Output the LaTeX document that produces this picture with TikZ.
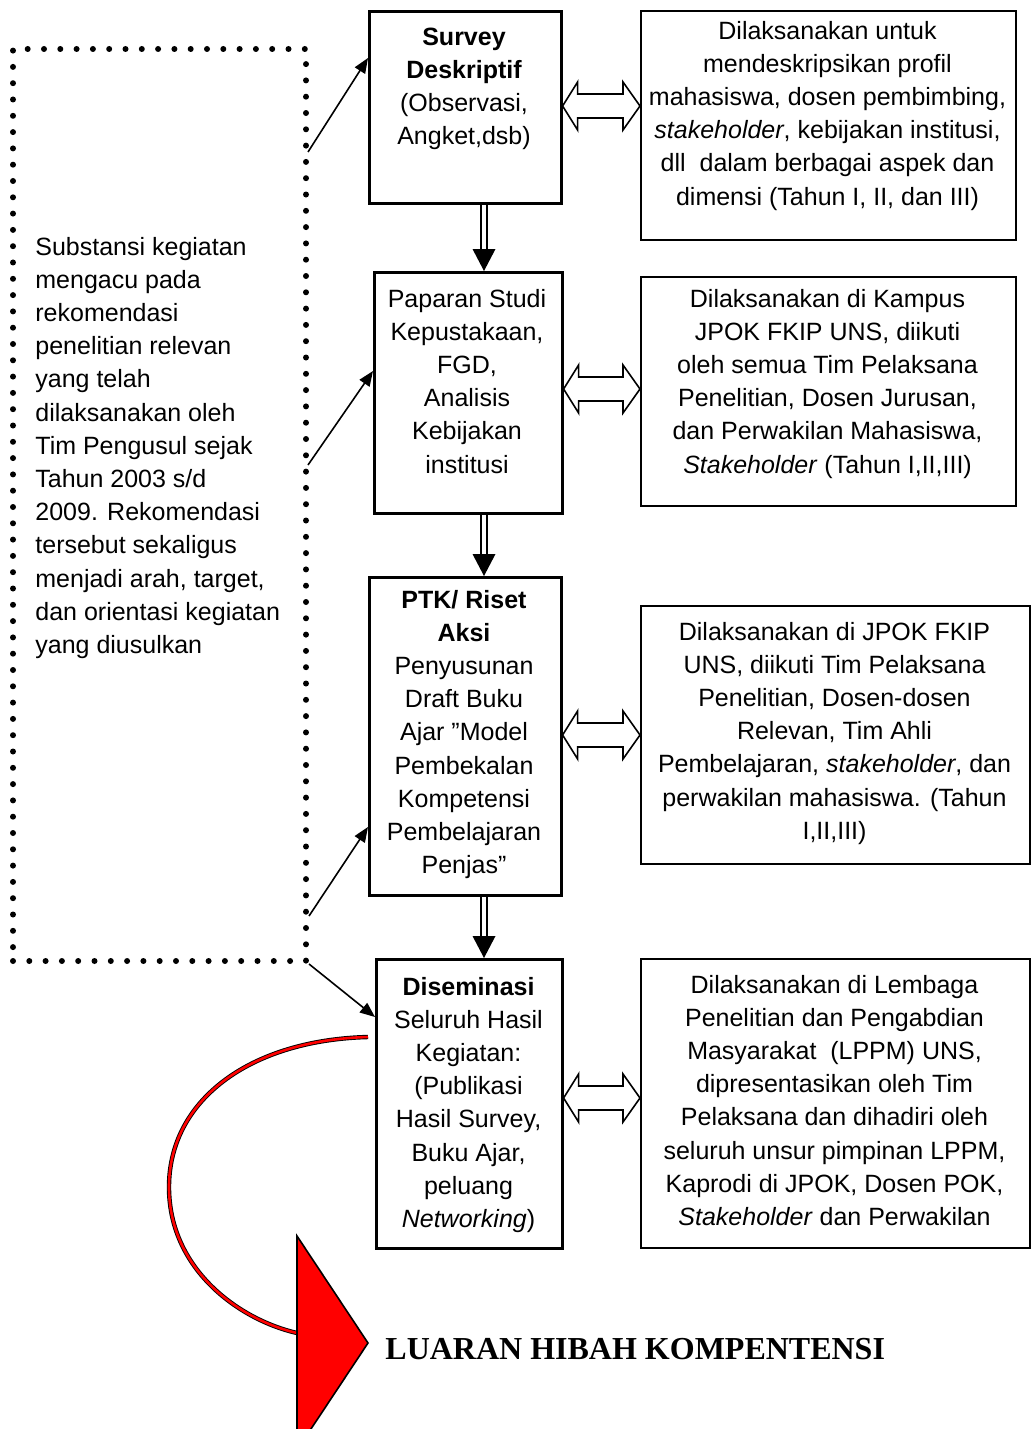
\documentclass[tikz,border=0pt]{standalone}
\usepackage{fontspec}
\setmainfont{Liberation Sans}
\newfontfamily\serifbf{Liberation Serif}
\usetikzlibrary{calc,arrows.meta}
\newcommand{\hollowarrow}[2]{%
  \draw[harrow] (#1) -- ++(15,-24) -- ++(0,12) -- ($(#2)+(-17,-12)$) -- ++(0,-12) -- (#2)
    -- ++(-17,24) -- ++(0,-12) -- ($(#1)+(15,12)$) -- ++(0,12) -- cycle;}
\newcommand{\dnarrowdbl}[2]{% #1 from coordinate, #2 to coordinate (tip)
  \draw[line width=1pt] ($(#1)+(-3,0)$) -- ($(#2)+(-3,-22)$);
  \draw[line width=1pt] ($(#1)+(3,0)$) -- ($(#2)+(3,-22)$);
  \fill ($(#2)+(-11.5,-22)$) -- ($(#2)+(11.5,-22)$) -- (#2) -- cycle;}
\begin{document}
\begin{tikzpicture}[x=0.5pt,y=-0.5pt,
  lbox/.style={draw, line width=1.3pt, inner sep=0, anchor=north west},
  rbox/.style={draw, line width=0.8pt, inner sep=0, anchor=north west},
  txt/.style={font=\fontsize{12.5}{16.6}\selectfont, align=center, inner sep=0, anchor=north},
  ltxt/.style={font=\fontsize{12.5}{16.6}\selectfont, align=left, inner sep=0, anchor=north west},
  dotbox/.style={draw, line width=3pt, dash pattern=on 0pt off 8.15pt, line cap=round, inner sep=0, anchor=north west},
  sarrow/.style={line width=0.8pt, -{Triangle[length=7.5pt,width=6pt]}},
  harrow/.style={draw, fill=white, line width=0.8pt, line join=miter},
]
\useasboundingbox (0,0) rectangle (1032,1429);

% left dotted box
\node[dotbox, minimum width=146.5pt, minimum height=456pt] (lb) at (10,46) {};
\node[ltxt] (lt) at (35,231.5) {\strut Substansi kegiatan\\mengacu pada\\rekomendasi\\penelitian relevan\\yang telah\\dilaksanakan oleh\\Tim Pengusul sejak\\Tahun 2003 s/d\\2009. Rekomendasi\\tersebut sekaligus\\menjadi arah, target,\\dan orientasi kegiatan\\yang diusulkan};

% middle boxes
\node[lbox, minimum width=96pt, minimum height=96pt] (b1) at (368,10) {};
\node[txt] (t1) at (464,21.5) {\strut\textbf{Survey}\\\textbf{Deskriptif}\\(Observasi,\\Angket,dsb)};
\node[lbox, minimum width=94pt, minimum height=120.5pt] (b2) at (373,271) {};
\node[txt] (t2) at (467,283.5) {\strut Paparan Studi\\Kepustakaan,\\FGD,\\Analisis\\Kebijakan\\institusi};
\node[lbox, minimum width=96pt, minimum height=159pt] (b3) at (368,576) {};
\node[txt] (t3) at (464,584.5) {\strut\textbf{PTK/ Riset}\\\textbf{Aksi}\\Penyusunan\\Draft Buku\\Ajar ”Model\\Pembekalan\\Kompetensi\\Pembelajaran\\Penjas”};
\node[lbox, minimum width=93pt, minimum height=144.5pt] (b4) at (375,958) {};
\node[txt] (t4) at (468.5,971.5) {\strut\textbf{Diseminasi}\\Seluruh Hasil\\Kegiatan:\\(Publikasi\\Hasil Survey,\\Buku Ajar,\\peluang\\\textit{Networking})};

% right boxes
\node[rbox, minimum width=187.5pt, minimum height=114.5pt] (r1) at (640,10) {};
\node[txt] (tr1) at (827.5,15.5) {\strut Dilaksanakan untuk\\mendeskripsikan profil\\mahasiswa, dosen pembimbing,\\\textit{stakeholder}, kebijakan institusi,\\dll\ \ dalam berbagai aspek dan\\dimensi (Tahun I, II, dan III)};
\node[rbox, minimum width=187.5pt, minimum height=114.5pt] (r2) at (640,276) {};
\node[txt] (tr2) at (827.5,283.5) {\strut Dilaksanakan di Kampus\\JPOK FKIP UNS, diikuti\\oleh semua Tim Pelaksana\\Penelitian, Dosen Jurusan,\\dan Perwakilan Mahasiswa,\\\textit{Stakeholder} (Tahun I,II,III)};
\node[rbox, minimum width=194.5pt, minimum height=129pt] (r3) at (640,605) {};
\node[txt] (tr3) at (834.5,616.5) {\strut Dilaksanakan di JPOK FKIP\\UNS, diikuti Tim Pelaksana\\Penelitian, Dosen-dosen\\Relevan, Tim Ahli\\Pembelajaran, \textit{stakeholder}, dan\\perwakilan mahasiswa. (Tahun\\I,II,III)};
\node[rbox, minimum width=194.5pt, minimum height=144.5pt] (r4) at (640,958) {};
\node[txt] (tr4) at (834.5,969.5) {\strut Dilaksanakan di Lembaga\\Penelitian dan Pengabdian\\Masyarakat\ \ (LPPM) UNS,\\dipresentasikan oleh Tim\\Pelaksana dan dihadiri oleh\\seluruh unsur pimpinan LPPM,\\Kaprodi di JPOK, Dosen POK,\\\textit{Stakeholder} dan Perwakilan};

% down arrows
\coordinate (ax) at (484,0);
\dnarrowdbl{b1.south -| ax}{b2.north -| ax}
\dnarrowdbl{b2.south -| ax}{b3.north -| ax}
\dnarrowdbl{b3.south -| ax}{b4.north -| ax}

% hollow double arrows
\coordinate (y1) at (0,106);
\coordinate (y2) at (0,389);
\coordinate (y3) at (0,735);
\coordinate (y4) at (0,1098);
\hollowarrow{b1.east |- y1}{r1.west |- y1}
\hollowarrow{b2.east |- y2}{r2.west |- y2}
\hollowarrow{b3.east |- y3}{r3.west |- y3}
\hollowarrow{b4.east |- y4}{r4.west |- y4}

% arrows from dotted box
\draw[sarrow] ($(lb.north east)+(-1,106)$) -- ($(b1.north west)+(0,48)$);
\draw[sarrow] ($(lb.north east)+(-1,419)$) -- ($(b2.north west)+(0,100)$);
\draw[sarrow] ($(lb.south east)+(0,-48)$) -- ($(b3.north west)+(0,251)$);
\draw[sarrow] (lb.south east) -- ($(b4.north west)+(0,59)$);

% curved red arrow to output
\begin{scope}
\clip (0,0) rectangle (1032,1429);
\draw[draw=black, line width=0.45pt, double=red, double distance=1.3pt]
  ($(b4.north west)+(-7,79)$) .. controls (250,1040) and (169,1100) .. (169,1187)
  .. controls (169,1270) and (240,1320) .. (297,1333);
\draw[fill=red, line width=0.8pt, line join=miter] (297,1236) -- (368,1343) -- (297,1450) -- cycle;
\end{scope}
\node[anchor=west, inner sep=0, font=\serifbf\bfseries\fontsize{16}{19}\selectfont] (out) at (385,1349) {LUARAN HIBAH KOMPENTENSI};
\end{tikzpicture}
\end{document}
